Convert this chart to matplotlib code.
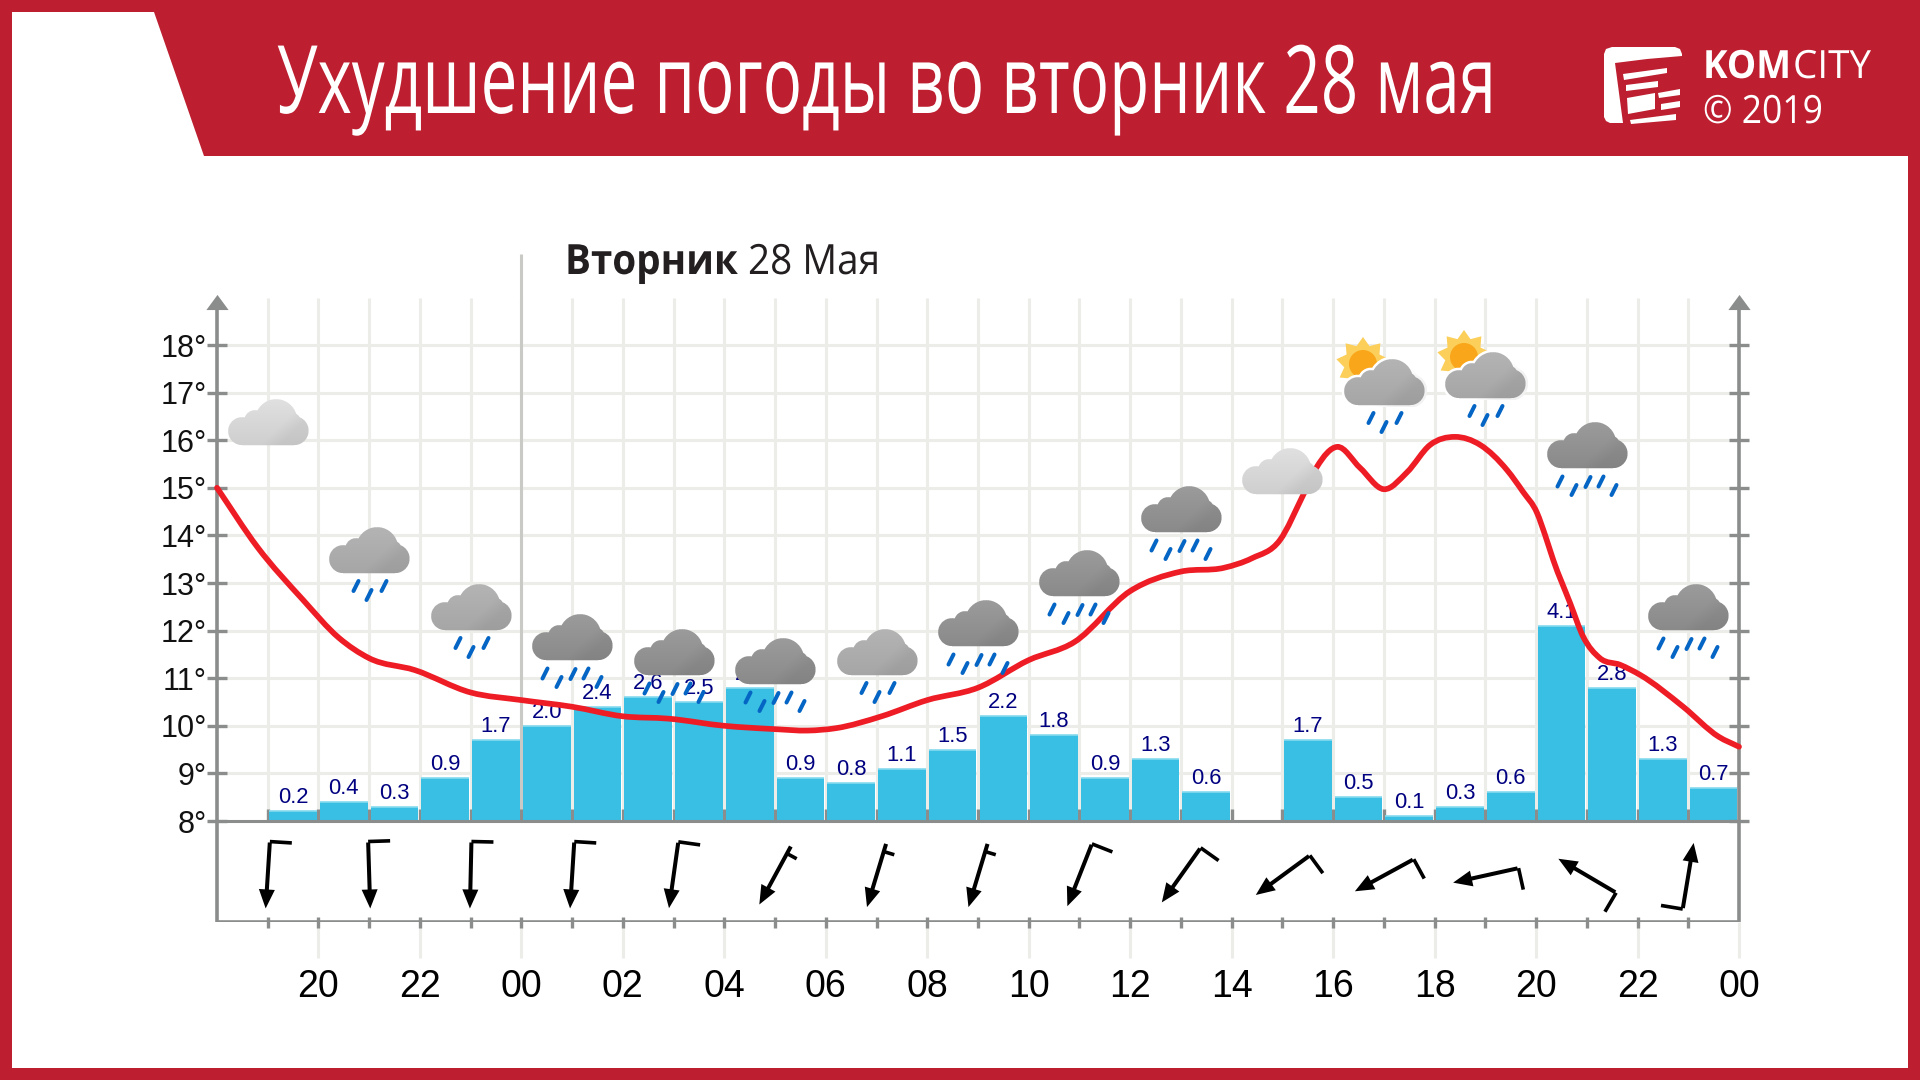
import numpy as np
from matplotlib import pyplot as plt
from matplotlib.colors import to_rgb
from matplotlib.patches import Polygon, PathPatch
from matplotlib.patheffects import AbstractPathEffect
from matplotlib.path import Path
from matplotlib.text import Text
from matplotlib.transforms import Affine2D, Bbox

# hours are counted from 00 of the previous day, 24 is midnight before Tuesday
rain_hours = [19.5, 20.5, 21.5, 22.5, 23.5, 24.5, 25.5, 26.5, 27.5, 28.5, 29.5, 30.5, 31.5, 32.5, 33.5,
              34.5, 35.5, 36.5, 37.5, 39.5, 40.5, 41.5, 42.5, 43.5, 44.5, 45.5, 46.5, 47.5]
rain_values = [0.2, 0.4, 0.3, 0.9, 1.7, 2.0, 2.4, 2.6, 2.5, 2.8, 0.9, 0.8, 1.1, 1.5, 2.2,
               1.8, 0.9, 1.3, 0.6, 1.7, 0.5, 0.1, 0.3, 0.6, 4.1, 2.8, 1.3, 0.7]

temp_hours = [18, 18.8, 19.7, 20.4, 21.0, 21.9, 23.0, 24.0, 25.0, 26.0, 26.9, 28.0, 29.0, 29.65, 30.2, 31.1,
              32.0, 33.0, 34.0, 34.9, 36.0, 37.0, 37.85, 38.4, 38.95, 39.41, 39.68, 40.08, 40.53, 41.0, 41.46, 41.91,
              42.4, 42.9, 43.43, 43.74, 44.02, 44.18, 44.34, 44.67, 44.93, 45.26, 45.66, 46.05, 46.9, 47.6, 48]
temp_values = [15, 13.75, 12.64, 11.85, 11.42, 11.17, 10.7, 10.54, 10.4, 10.2, 10.15, 10.0, 9.93, 9.9, 9.95, 10.2,
               10.54, 10.8, 11.38, 11.76, 12.83, 13.24, 13.32, 13.52, 13.9, 14.85, 15.44, 15.86, 15.42, 14.97, 15.33, 15.9,
               16.07, 15.9, 15.37, 14.92, 14.47, 14.0, 13.48, 12.58, 11.87, 11.42, 11.28, 11.07, 10.4, 9.77, 9.56]

icon_hours = [19, 21, 23, 25, 27, 29, 31, 33, 35, 37, 39, 41, 43, 45, 47]
icon_base = [15.89, 13.22, 12.01, 11.39, 11.06, 10.88, 11.06, 11.68, 12.73, 14.07, 14.88, 16.73, 16.88, 15.41, 12.01]
icon_shade = ['light', 'mid', 'mid', 'dark', 'dark', 'dark', 'mid', 'dark', 'dark', 'dark', 'light', 'mid', 'mid', 'dark', 'dark']
icon_drops = [0, 3, 3, 5, 5, 5, 3, 5, 5, 5, 0, 3, 3, 5, 5]
icon_sun = [False] * 11 + [True, True, False, False]

wind_heading = [183.6, 178.2, 181.3, 183.6, 188, 208.5, 196.8, 196.8, 201.5, 215.4, 233.8, 241.4, 257.5, 300.5, 9.4]
wind_short = [False] * 5 + [True, True, True] + [False] * 7

y_ticks = list(range(8, 19))
x_tick_hours = list(range(20, 50, 2))
x_tick_labels = ['20', '22', '00', '02', '04', '06', '08', '10', '12', '14', '16', '18', '20', '22', '00']

title = 'Ухудшение погоды во вторник 28 мая'
day_bold = 'Вторник'
day_rest = '28 Мая'

RED = '#bd1f30'
GRID = '#ecece8'
AXIS = '#8a8d8c'
ARIAL = 'Liberation Sans'

shades = {'light': ('#e0e0e0', '#cfcfcf'), 'mid': ('#b4b4b4', '#a6a6a6'), 'dark': ('#9b9b9b', '#8a8a8a')}
lumps = [(-26, -14, 14), (-13, -24, 11), (8, -25, 21), (20, -20, 14), (26, -14.5, 14.5)]
drops = {3: [(-13, 13), (15, 13), (0, 22)], 5: [(-27, 13.5), (-13, 22), (1, 14), (14, 13.5), (27, 22)]}

fig = plt.figure(figsize=(19.2, 10.8), dpi=100, facecolor=RED)


def pixelAxes(zorder):
    a = fig.add_axes([0, 0, 1, 1], zorder=zorder)
    a.set_xlim(0, 1920)
    a.set_ylim(1080, 0)
    a.axis('off')
    return a


class Squeeze(AbstractPathEffect):
    # No condensed face is installed, so the glyphs get narrowed when drawn
    def __init__(self, x0, sx):
        super().__init__()
        self.x0 = x0
        self.sx = sx

    def draw_path(self, renderer, gc, tpath, affine, rgbFace=None):
        squeeze = Affine2D().translate(-self.x0, 0).scale(self.sx, 1).translate(self.x0, 0)
        renderer.draw_path(gc, tpath, affine + squeeze, rgbFace)


class NarrowText(Text):
    sx = 1.0

    def get_window_extent(self, renderer=None, dpi=None):
        bb = super().get_window_extent(renderer, dpi)
        return Bbox.from_extents(bb.x0, bb.y0, bb.x0 + bb.width * self.sx, bb.y1)


def narrowText(a, x0, x1, y, s, **kw):
    t = NarrowText(x0, y, s, va='baseline', **kw)
    a.add_artist(t)
    t.set_transform(a.transData)
    width = t.get_window_extent(fig.canvas.get_renderer()).width
    t.sx = (x1 - x0) / width
    t.set_path_effects([Squeeze(x0, t.sx)])
    return t


def cloudImage(colors, grow=0):
    # RGBA picture of the cloud, 4x oversampled so that the edge is smooth
    ys, xs = np.mgrid[-50:2:0.25, -45:45:0.25]
    inside = (np.abs(xs) <= 26) & (ys <= grow) & (ys >= -20)
    for dx, dy, r in lumps:
        inside |= (xs - dx) ** 2 + (ys - dy) ** 2 <= (r + grow) ** 2
    alpha = inside.reshape(52, 4, 90, 4).mean(axis=(1, 3))
    g = np.clip((ys + 46) / 46, 0, 1).reshape(52, 4, 90, 4).mean(axis=(1, 3))
    corner = np.clip((xs + ys + 8) / 20, 0, 1).reshape(52, 4, 90, 4).mean(axis=(1, 3))
    top, bottom = [np.array(to_rgb(c)) for c in colors]
    rgb = top + (bottom - top) * g[..., None]
    rgb = rgb * (1 - 0.05 * corner[..., None])
    return np.dstack([rgb, alpha])


frame = pixelAxes(0)
icons = pixelAxes(2)
ax = fig.add_axes([217 / 1920, 1 - 922 / 1080, 1522 / 1920, 624 / 1080], zorder=1)
ax.set_xlim(18, 48)
ymin = 8 - 101 / 47.6
ymax = 8 + 523 / 47.6
ax.set_ylim(ymin, ymax)
ax.axis('off')

# Header and white panel
frame.add_patch(Polygon([(12, 12), (154, 12), (204, 156), (1908, 156), (1908, 1068), (12, 1068)], fc='white', ec='none'))
narrowText(frame, 277, 1497, 113, title, color='white', fontsize=68, family='Open Sans')

# Logo
frame.add_patch(Polygon([(1604, 54), (1606, 49), (1612, 47), (1675, 47), (1680, 49), (1682, 54), (1682, 56),
                         (1647, 59), (1615, 63), (1623, 123), (1610, 123), (1606, 121), (1604, 117)], fc='white', ec='none'))
for stripe in [[(1623, 74), (1667, 68), (1667, 73), (1624, 80)], [(1626, 85), (1658, 81), (1658, 87), (1626, 91)],
               [(1627, 98), (1655, 93), (1655, 109), (1628, 114)], [(1658, 93), (1680, 89), (1680, 95), (1659, 98)],
               [(1661, 104), (1680, 101), (1680, 107), (1661, 110)], [(1630, 120), (1676, 114), (1676, 120), (1631, 124)]]:
    frame.add_patch(Polygon(stripe, fc='white', ec='none'))
narrowText(frame, 1703, 1791, 78, 'KOM', color='white', fontsize=28, family='Open Sans', fontweight='bold')
narrowText(frame, 1793, 1871, 78, 'CITY', color='white', fontsize=28, family='Open Sans')
narrowText(frame, 1703, 1823, 123, '© 2019', color='white', fontsize=28, family='Open Sans')

# Day caption
narrowText(frame, 565, 738, 274, day_bold, color='#231f20', fontsize=30, family='Open Sans', fontweight='bold')
narrowText(frame, 748, 880, 274, day_rest, color='#231f20', fontsize=30, family='Open Sans')

# Grid
grid_kw = dict(color=GRID, lw=2.2, zorder=1)
ax.hlines(y_ticks[1:], 18, 48, **grid_kw)
ax.vlines(np.arange(19, 48), 8, ymax, **grid_kw)
ax.vlines(x_tick_hours, ymin, ymin - 36 / 47.6, clip_on=False, **grid_kw)
ax.vlines(24, 8, 8 + 567 / 47.6, color='#c9c9c5', lw=2.2, zorder=1.5, clip_on=False)

# Ticks under the bars, then bars and baseline
tick_kw = dict(color=AXIS, lw=2.4, clip_on=False)
ax.vlines(np.arange(19, 48), 8, 8 + 12 / 47.6, zorder=2, **tick_kw)
ax.vlines(np.arange(19, 48), ymin - 6 / 47.6, ymin + 5 / 47.6, zorder=2, **tick_kw)
ax.bar(rain_hours, rain_values, width=0.94, bottom=8, color='#38bfe3', zorder=3)
ax.hlines(8 + np.array(rain_values), np.array(rain_hours) - 0.47, np.array(rain_hours) + 0.47, color='#86daef', lw=1.2, zorder=3.1)
ax.hlines(8, 18 - 9 / 50.7, 48, color=AXIS, lw=2.2, zorder=4, clip_on=False)
ax.hlines(ymin, 18, 48, color=AXIS, lw=2.6, zorder=4)

arrow_head = [(-1, -0.68), (1, -0.68), (0, 0.68)]
for side in (18, 48):
    ax.vlines(side, ymin, ymax - 5 / 47.6, color=AXIS, lw=2.6, zorder=4, clip_on=False)
    ax.hlines(y_ticks, side - 0.19, side + 0.19, zorder=4, **tick_kw)
    ax.plot([side], [ymax - 4 / 47.6], marker=arrow_head, ms=16, color=AXIS, mec='none', zorder=4, clip_on=False)

for t in y_ticks:
    ax.text(18 - 10 / 50.7, t, f'{t}°', ha='right', va='center_baseline', fontsize=22, family=ARIAL, color='#111111')
for h, lab in zip(x_tick_hours, x_tick_labels):
    ax.text(h, ymin - 61 / 47.6, lab, ha='center', va='center_baseline', fontsize=27, family=ARIAL, color='black', clip_on=False)
for h, v in zip(rain_hours, rain_values):
    ax.text(h, 8 + v + 0.17, f'{v:.1f}', ha='center', va='baseline', fontsize=15.8, family=ARIAL, color='#000080', zorder=5)

# Temperature curve, Hermite segments through the points
hx = np.array(temp_hours, dtype=float)
ty = np.array(temp_values, dtype=float)
slope = np.gradient(ty, hx)
verts = [(hx[0], ty[0])]
codes = [Path.MOVETO]
for i in range(len(hx) - 1):
    dx = (hx[i + 1] - hx[i]) / 3
    verts += [(hx[i] + dx, ty[i] + slope[i] * dx), (hx[i + 1] - dx, ty[i + 1] - slope[i + 1] * dx), (hx[i + 1], ty[i + 1])]
    codes += [Path.CURVE4] * 3
ax.add_patch(PathPatch(Path(verts, codes), fill=False, ec='#ee1c25', lw=4.1, zorder=6, clip_on=False, capstyle='round'))


def toPixels(h, t):
    return icons.transData.inverted().transform(ax.transData.transform((h, t)))


# Weather icons
z = 10
for h, base, shade, nd, sun in zip(icon_hours, icon_base, icon_shade, icon_drops, icon_sun):
    cx, by = np.round(toPixels(h, base))
    extent = (cx - 45, cx + 45, by + 2, by - 50)
    if sun:
        ang = np.radians(np.arange(0, 360, 20) - 90)
        rad = np.where(np.arange(18) % 2 == 0, 27, 19)
        star = np.column_stack([cx - 21 + rad * np.cos(ang), by - 41 + rad * np.sin(ang)])
        icons.add_patch(Polygon(star, fc='#fbcf5a', ec='none', zorder=z))
        icons.add_patch(PathPatch(Path.circle((cx - 21, by - 41), 14), fc='#f9a61b', ec='none', zorder=z))
        icons.imshow(cloudImage(('#ffffff', '#ffffff'), 2.5), extent=extent, aspect='auto', zorder=z + 0.1, interpolation='nearest')
    icons.imshow(cloudImage(shades[shade]), extent=extent, aspect='auto', zorder=z + 0.2, interpolation='nearest')
    if nd:
        for dx, dy in drops[nd]:
            icons.plot([cx + dx + 2.5, cx + dx - 2.5], [by + dy - 5, by + dy + 5], color='#0565c4', lw=2.9,
                       solid_capstyle='round', zorder=z + 0.3)
    z += 1
icons.set_xlim(0, 1920)
icons.set_ylim(1080, 0)

# Wind arrows
for h, head, short in zip(icon_hours, wind_heading, wind_short):
    cx = toPixels(h, 8)[0]
    a = np.radians(head)
    d = np.array([np.sin(a), -np.cos(a)])
    n = np.array([-d[1], d[0]])
    mid = np.array([cx, 875.5])
    tail = mid - d * 33
    tip = mid + d * 33
    icons.plot(*zip(tail, tip - d * 8), color='black', lw=2.9, solid_capstyle='butt', zorder=8)
    icons.add_patch(Polygon([tip, tip - d * 19 + n * 8, tip - d * 19 - n * 8], fc='black', ec='none', zorder=8))
    if short:
        start = tail + d * 8
        icons.plot(*zip(start, start - n * 11), color='black', lw=2.6, solid_capstyle='butt', zorder=8)
    else:
        icons.plot(*zip(tail - d * 1, tail - n * 22 - d * 1), color='black', lw=2.6, solid_capstyle='butt', zorder=8)

fig.savefig('out.png', dpi=100, facecolor=RED)
